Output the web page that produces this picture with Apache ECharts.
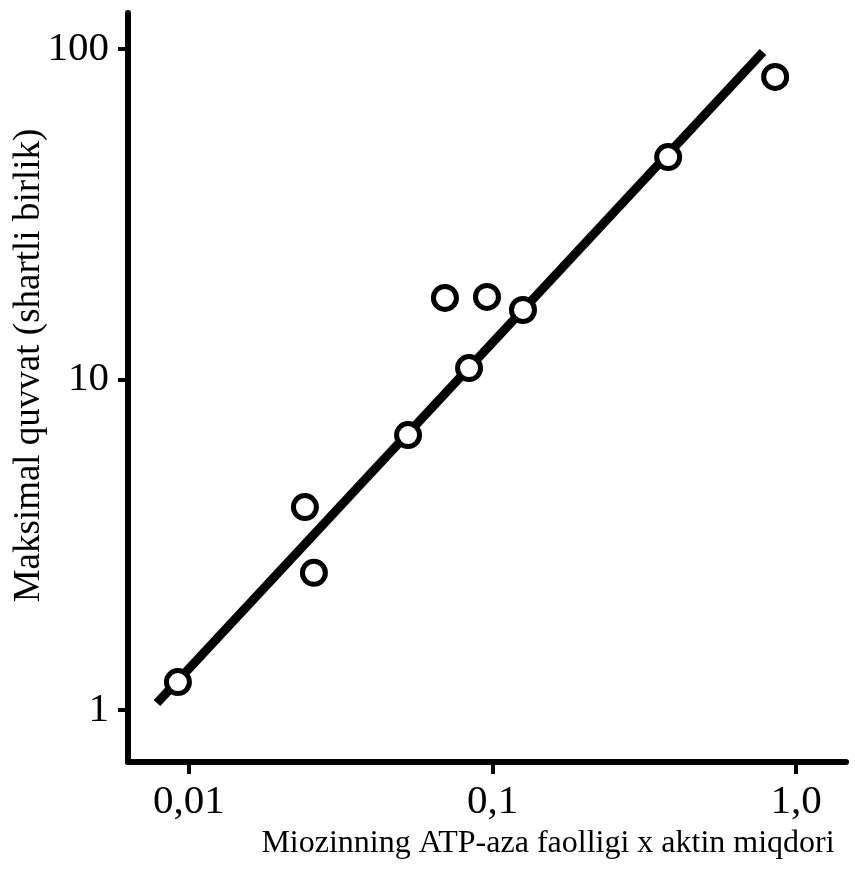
<!DOCTYPE html>
<html>
<head>
<meta charset="utf-8">
<script src="https://cdn.jsdelivr.net/npm/echarts@6/dist/echarts.min.js"></script>
<style>
  html, body { margin: 0; padding: 0; background: #fff; }
  #chart { width: 855px; height: 882px; }
</style>
</head>
<body>
<div id="chart"></div>
<script>
// Measurements: ATPase activity x actin content vs. maximal power (log-log)
const activity = [0.0092, 0.0241, 0.0258, 0.0527, 0.0697, 0.0959, 0.0837, 0.126, 0.379, 0.853];
const power    = [1.215, 4.11, 2.60, 6.79, 17.65, 17.77, 10.83, 16.23, 47.1, 82.3];

// Regression line end points
const fitX = [0.00785, 0.778];
const fitY = [1.05, 97.9];

// Axis ticks and their printed labels
const xTicks = [0.01, 0.1, 1];
const xTickLabels = ['0,01', '0,1', '1,0'];
const yTicks = [1, 10, 100];
const yTickLabels = ['1', '10', '100'];

const xTitle = 'Miozinning ATP-aza faolligi x aktin miqdori';
const yTitle = 'Maksimal quvvat (shartli birlik)';

const FONT = 'Liberation Serif';

function labelFor(ticks, labels) {
  return function (v) {
    const e = Math.round(Math.log10(v));
    for (let i = 0; i < ticks.length; i++) {
      if (Math.round(Math.log10(ticks[i])) === e && Math.abs(Math.log10(v) - e) < 1e-6) return labels[i];
    }
    return '';
  };
}

const chart = echarts.init(document.getElementById('chart'), null, { renderer: 'canvas' });

chart.setOption({
  backgroundColor: '#fff',
  animation: false,
  grid: { left: 128, right: 9, top: 13, bottom: 120, containLabel: false, outerBoundsMode: 'none' },
  xAxis: {
    type: 'log',
    logBase: 10,
    min: 0.0063,
    max: 1.46,
    splitLine: { show: false },
    axisLine: { show: true, lineStyle: { color: '#000', width: 6 } },
    axisTick: { show: true, inside: false, length: 12, customValues: xTicks, lineStyle: { color: '#000', width: 4 } },
    axisLabel: {
      customValues: xTicks,
      formatter: labelFor(xTicks, xTickLabels),
      color: '#000', fontFamily: FONT, fontSize: 41, margin: 20
    },
    name: xTitle,
    nameLocation: 'middle',
    nameGap: 66,
    nameMoveOverlap: false,
    nameTextStyle: { color: '#000', fontFamily: FONT, fontSize: 32, padding: [0, 0, 0, 122] }
  },
  yAxis: {
    type: 'log',
    logBase: 10,
    min: 0.696,
    max: 128.5,
    splitLine: { show: false },
    axisLine: { show: true, lineStyle: { color: '#000', width: 6 } },
    axisTick: { show: true, inside: false, length: 10, customValues: yTicks, lineStyle: { color: '#000', width: 4 } },
    axisLabel: {
      customValues: yTicks,
      formatter: labelFor(yTicks, yTickLabels),
      color: '#000', fontFamily: FONT, fontSize: 41, margin: 19
    },
    name: yTitle,
    nameLocation: 'middle',
    nameRotate: 90,
    nameGap: 80,
    nameMoveOverlap: false,
    nameTextStyle: { color: '#000', fontFamily: FONT, fontSize: 37, padding: [0, 0, 0, 44] }
  },
  series: [
    {
      type: 'line',
      data: fitX.map((x, i) => [x, fitY[i]]),
      showSymbol: false,
      symbol: 'none',
      lineStyle: { color: '#000', width: 9, cap: 'butt' },
      z: 2,
      silent: true
    },
    {
      type: 'scatter',
      data: activity.map((x, i) => [x, power[i]]),
      symbol: 'circle',
      symbolSize: 23,
      itemStyle: { color: '#fff', borderColor: '#000', borderWidth: 5, opacity: 1 },
      z: 3
    }
  ]
});
</script>
</body>
</html>
